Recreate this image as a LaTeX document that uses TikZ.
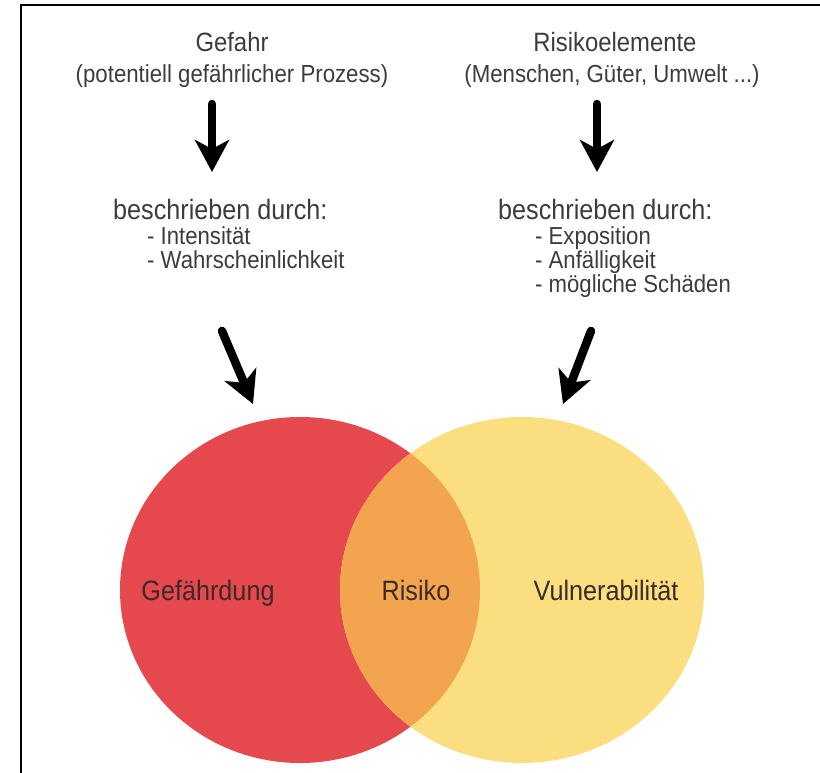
\documentclass[tikz,border=0pt]{standalone}
\usepackage{fontspec}
\setmainfont{Liberation Sans}[FakeStretch=0.9]
\usetikzlibrary{positioning, arrows.meta, shapes.geometric}

\definecolor{txtgray}{HTML}{3C3C3C}
\definecolor{lbldark}{HTML}{3A2A2A}
\definecolor{hzred}{HTML}{E5484D}
\definecolor{vulyellow}{HTML}{FBDE80}
\definecolor{risorange}{HTML}{F2A44E}

\begin{document}
\begin{tikzpicture}[
  x=1pt, y=-1pt,
  ttl/.style={anchor=base, inner sep=0pt, text=txtgray, font=\fontsize{26.5}{30}\selectfont},
  sub/.style={anchor=base, inner sep=0pt, text=txtgray, font=\fontsize{24.7}{28}\selectfont},
  head/.style={anchor=base west, inner sep=0pt, text=txtgray, font=\fontsize{28}{32}\selectfont},
  item/.style={anchor=base west, inner sep=0pt, text=txtgray, font=\fontsize{24.6}{29}\selectfont},
  lbl/.style={anchor=base, inner sep=0pt, text=lbldark, font=\fontsize{28}{32}\selectfont},
  blob/.style={ellipse, draw=none, inner sep=0pt, minimum height=346pt},
  bigarrow/.style={-{Stealth[length=32pt, width=34pt, inset=9pt]}, line width=8.5pt, line cap=round, black}
]
  \useasboundingbox (0,0) rectangle (820,773);

  % frame
  \draw[line width=2pt] (21,773) -- (21,5) -- (820,5);

  % Venn
  \node[blob, fill=hzred, minimum width=360pt] (hzcirc) at (300,590) {};
  \node[blob, fill=vulyellow, minimum width=364pt] (vucirc) at (522,590) {};
  \begin{scope}
    \clip (300,590) ellipse [x radius=180, y radius=173];
    \fill[risorange] (522,590) ellipse [x radius=182, y radius=173];
  \end{scope}

  \node[lbl] (hzlbl) at (208,600) {Gefährdung};
  \node[lbl] (rislbl) at (416,600) {Risiko};
  \node[lbl] (vulbl) at (606,600) {Vulnerabilität};

  % left column
  \node[ttl] (gefahr) at (232,52) {Gefahr};
  \node[sub] (gefahrsub) at (232,83) {(potentiell gefährlicher Prozess)};
  \node[head] (gefdesc) at (113,219) {beschrieben durch:};
  \node[item] (gefint) at (147,244) {- Intensität};
  \node[item] (gefwahr) at (147,268) {- Wahrscheinlichkeit};

  % right column
  \node[ttl] (risk) at (615,52) {Risikoelemente};
  \node[sub] (risksub) at (612,83) {(Menschen, Güter, Umwelt ...)};
  \node[head] (riskdesc) at (498,219) {beschrieben durch:};
  \node[item] (riskexp) at (535,244) {- Exposition};
  \node[item] (riskanf) at (535,268) {- Anfälligkeit};
  \node[item] (riskschad) at (535,292) {- mögliche Schäden};

  % arrows
  \draw[bigarrow] ([xshift=-20pt, yshift=-21pt]gefahrsub.base) -- ([xshift=99pt, yshift=47pt]gefdesc.base west);
  \draw[bigarrow] ([xshift=-15pt, yshift=-21pt]risksub.base) -- ([xshift=99pt, yshift=47pt]riskdesc.base west);
  \draw[bigarrow] ([xshift=75pt, yshift=-63pt]gefwahr.base west) -- ([xshift=-47pt, yshift=186pt]hzcirc.center);
  \draw[bigarrow] ([xshift=56pt, yshift=-39pt]riskschad.base west) -- ([xshift=41pt, yshift=186pt]vucirc.center);
\end{tikzpicture}
\end{document}
